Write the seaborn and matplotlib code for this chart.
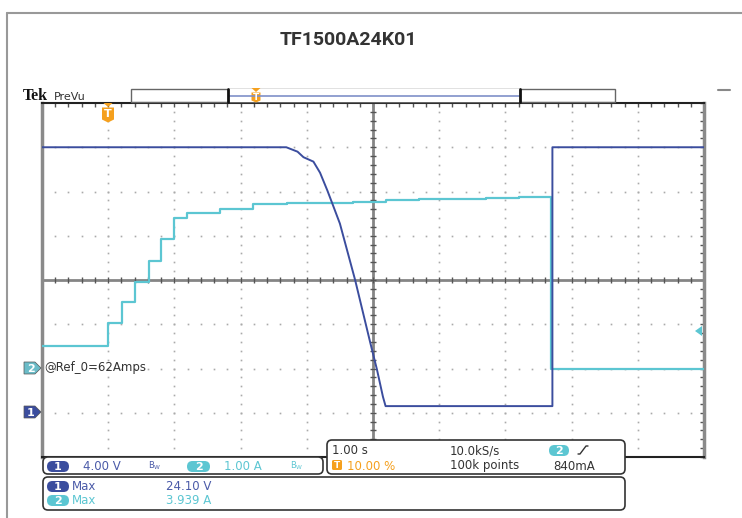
import numpy as np
import pandas as pd
import matplotlib.pyplot as plt
import seaborn as sns
from matplotlib.patches import FancyBboxPatch, Rectangle, Polygon

# Channel 1: supply voltage (V) vs time (s); trigger at t = 0
ch1_t = [-1.0, 2.69, 2.86, 2.95, 3.10, 3.20, 3.31, 3.38, 3.50, 3.73, 3.96, 4.06, 4.15, 4.19, 6.71, 6.71, 9.0]
ch1_v = [24.0, 24.0, 23.6, 23.1, 22.7, 21.7, 20.1, 19.0, 17.1, 12.0, 6.3, 3.9, 1.45, 0.6, 0.6, 24.0, 24.0]

# Channel 2: current (A) vs time (s), stepped
ch2_t = [-1.0, 0.0, 0.21, 0.41, 0.61, 0.80, 1.0, 1.19, 1.69, 2.19, 2.7, 3.2, 3.7, 4.2, 4.7, 5.2, 5.7, 6.2, 6.69, 9.0]
ch2_a = [0.51, 1.03, 1.50, 1.95, 2.43, 2.93, 3.40, 3.51, 3.61, 3.72, 3.74, 3.75, 3.77, 3.80, 3.82, 3.84, 3.86, 3.88, 0.0, 0.0]

# scope settings
ch1_scale, ch1_offset = 4.0, -3.0   # V/div, ground position in div
ch2_scale, ch2_offset = 1.0, -2.0   # A/div
time_scale, trig_pos = 1.0, 1.0     # s/div, trigger position in div

title = 'TF1500A24K01'
ref_label = '@Ref_0=62Amps'
ch1_meas = ['Max', '24.10 V']
ch2_meas = ['Max', '3.939 A']

C1 = '#3b4d9e'
C2 = '#5cc6d2'
C1_TXT = '#4a5aa8'
ORANGE = '#f5a01e'
TXT = '#333333'

sns.set_theme(style='white')
plt.rcParams['font.family'] = ['DejaVu Sans']

df1 = pd.DataFrame({'t': ch1_t, 'v': ch1_v})
df1['x'] = df1['t'] / time_scale + trig_pos
df1['y'] = df1['v'] / ch1_scale + ch1_offset
df2 = pd.DataFrame({'t': ch2_t, 'a': ch2_a})
df2['x'] = df2['t'] / time_scale + trig_pos
df2['y'] = df2['a'] / ch2_scale + ch2_offset

W, H = 742, 518
fig = plt.figure(figsize=(W / 100, H / 100), dpi=100)
fig.patch.set_facecolor('white')

gl, gr, gt, gb = 42, 704, 103, 457
ax = fig.add_axes([gl / W, 1 - gb / H, (gr - gl) / W, (gb - gt) / H])
ax.set_xlim(0, 10)
ax.set_ylim(-4, 4)
ax.set_facecolor('white')

# graticule dots
dot = dict(linestyle='none', marker='s', markersize=1.2, markeredgewidth=0, color='#aaaaaa')
ys = np.arange(-3.8, 3.81, 0.2)
for k in [1, 2, 3, 4, 6, 7, 8, 9]:
    ax.plot(np.full_like(ys, k), ys, **dot)
xs = np.arange(0.2, 9.81, 0.2)
for j in [-3, -2, -1, 1, 2, 3]:
    ax.plot(xs, np.full_like(xs, j), **dot)

# centre cross with ticks
ax.axhline(0, color='#858585', lw=2, zorder=1)
ax.axvline(5, color='#858585', lw=2, zorder=1)
ax.plot(xs, np.zeros_like(xs), linestyle='none', marker='|', markersize=4.5, color='#555555', mew=1)
ax.plot(np.full_like(ys, 5), ys, linestyle='none', marker='_', markersize=4.5, color='#555555', mew=1)

# waveforms
sns.lineplot(data=df2, x='x', y='y', sort=False, estimator=None, color=C2, lw=1.6,
             drawstyle='steps-post', ax=ax, zorder=3)
sns.lineplot(data=df1, x='x', y='y', sort=False, estimator=None, color=C1, lw=1.4, ax=ax, zorder=4)
ax.set_xlabel('')
ax.set_ylabel('')

ax.set_xticks(np.arange(0, 10.01, 0.2))
ax.set_yticks(np.arange(-4, 4.01, 0.2))
ax.tick_params(which='both', direction='in', length=3, width=1, color='#555555',
               top=True, right=True, labelbottom=False, labelleft=False)
for s in ['left', 'right']:
    ax.spines[s].set_color('#8a8a8a')
    ax.spines[s].set_linewidth(2.5)
for s in ['top', 'bottom']:
    ax.spines[s].set_color('#222222')
    ax.spines[s].set_linewidth(1.5)

# overlay in pixel coordinates for the scope furniture
ov = fig.add_axes([0, 0, 1, 1], zorder=5)
ov.set_xlim(0, W)
ov.set_ylim(H, 0)
ov.axis('off')
ov.patch.set_alpha(0)

ov.plot([7, W], [13, 13], color='#999999', lw=1.5)
ov.plot([7, 7], [13, H], color='#999999', lw=1.5)
ov.text(348, 40, title, ha='center', va='center', fontsize=14, fontweight='bold',
        family='Roboto', color=TXT)

ov.text(23, 100, 'Tek', family='Liberation Serif', fontweight='bold', fontsize=11.5, color='#111111')
ov.text(54, 100, 'PreVu', fontsize=8, color=TXT)
ov.plot([718, 730], [90, 90], color='#888888', lw=1.5)

# record view bar
ov.add_patch(Rectangle((131, 89), 484, 13, fill=False, ec='#666666', lw=1))
ov.add_patch(Rectangle((228, 89), 292, 13, fc='white', ec='none'))
ov.plot([229, 519], [95.5, 95.5], color='#7f90c8', lw=1.2)
ov.plot([228, 228], [89, 102], color='#111111', lw=2)
ov.plot([520, 520], [89, 102], color='#111111', lw=2)


def trig_icon(x, top, w, h, fs):
    ov.add_patch(Polygon([[x - 4.5, top], [x + 4.5, top], [x, top + 4]], closed=True, color=ORANGE, lw=0))
    ov.add_patch(Polygon([[x - w / 2, top + 4.5], [x + w / 2, top + 4.5], [x + w / 2, top + 4.5 + h * 0.8],
                          [x, top + 4.5 + h], [x - w / 2, top + 4.5 + h * 0.8]],
                         closed=True, fc=ORANGE, ec='none'))
    ov.text(x, top + 4.5 + h * 0.45, 'T', color='white', fontsize=fs, fontweight='bold',
            ha='center', va='center')


trig_icon(256, 88, 9, 10, 6.5)
trig_icon(108, 103, 12, 15, 8)

# channel markers at left, trigger level at right
for yc, col, lab in [(368, '#6bbcc8', '2'), (412, C1, '1')]:
    ov.add_patch(Polygon([[24, yc - 6], [35, yc - 6], [41, yc], [35, yc + 6], [24, yc + 6]],
                         closed=True, fc=col, ec='#555555', lw=0.5))
    ov.text(31, yc + 0.5, lab, color='white', fontsize=8, fontweight='bold', ha='center', va='center')
ov.text(44, 368, ref_label, fontsize=8.5, color=TXT, va='center')
ov.add_patch(Polygon([[695, 331], [702, 326], [702, 336]], closed=True, color=C2, lw=0))


def pill(x, y, w, h, col, lab):
    ov.add_patch(FancyBboxPatch((x, y), w, h, boxstyle='round,pad=0,rounding_size=%g' % (h / 2),
                                fc=col, ec='none'))
    ov.text(x + w / 2, y + h / 2 + 0.5, lab, color='white', fontsize=8, fontweight='bold',
            ha='center', va='center')


def panel(x, y, w, h):
    ov.add_patch(FancyBboxPatch((x, y), w, h, boxstyle='round,pad=0,rounding_size=5',
                                fc='white', ec='#333333', lw=1.2))


# vertical settings panel
panel(43, 457, 280, 17)
pill(47, 461, 22, 11, C1, '1')
ov.text(83, 466, '4.00 V', fontsize=8.5, color=C1_TXT, va='center')
ov.text(148, 466, r'$\mathregular{B_W}$', fontsize=6, color=C1_TXT, va='center')
pill(187, 461, 23, 11, C2, '2')
ov.text(224, 466, '1.00 A', fontsize=8.5, color=C2, va='center')
ov.text(290, 466, r'$\mathregular{B_W}$', fontsize=6, color=C2, va='center')

# timebase / trigger panel
panel(327, 440, 298, 34)
ov.text(332, 451, '1.00 s', fontsize=8.5, color=TXT, va='center')
ov.text(450, 451, '10.0kS/s', fontsize=8.5, color=TXT, va='center')
pill(549, 445, 20, 11, C2, '2')
ov.plot([578, 580, 586, 588], [454, 454, 446, 446], color=TXT, lw=1)
ov.add_patch(FancyBboxPatch((332, 460), 10, 10, boxstyle='round,pad=0,rounding_size=1.5',
                            fc=ORANGE, ec='none'))
ov.text(337, 465.5, 'T', color='white', fontsize=6.5, fontweight='bold', ha='center', va='center')
ov.text(347, 466, '10.00 %', fontsize=8.5, color=ORANGE, va='center')
ov.text(450, 466, '100k points', fontsize=8.5, color=TXT, va='center')
ov.text(553, 466, '840mA', fontsize=8.5, color=TXT, va='center')

# measurement panel
panel(43, 477, 582, 33)
pill(47, 481, 22, 11, C1, '1')
ov.text(72, 487, ch1_meas[0], fontsize=8.5, color=C1_TXT, va='center')
ov.text(166, 487, ch1_meas[1], fontsize=8.5, color=C1_TXT, va='center')
pill(47, 495, 22, 11, C2, '2')
ov.text(72, 501, ch2_meas[0], fontsize=8.5, color=C2, va='center')
ov.text(166, 501, ch2_meas[1], fontsize=8.5, color=C2, va='center')

fig.savefig('out.png', dpi=100, facecolor='white')
